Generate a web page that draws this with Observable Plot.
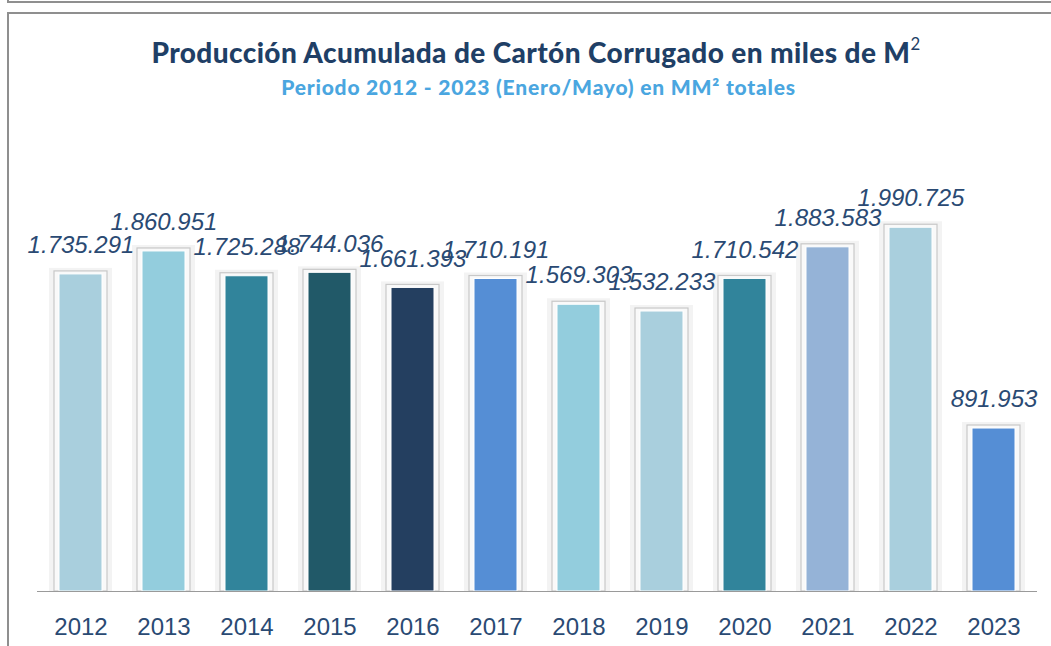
<!DOCTYPE html>
<html>
<head>
<meta charset="utf-8">
<script src="https://cdn.jsdelivr.net/npm/d3@7"></script>
<script src="https://cdn.jsdelivr.net/npm/@observablehq/plot@0.6"></script>
<style>
  html, body { margin: 0; padding: 0; background: #fff; }
  #wrap { position: relative; width: 1051px; height: 646px; overflow: hidden; background: #fff; }
  #box0 { position: absolute; left: 7px; top: -10px; width: 1100px; height: 11px; border-left: 2px solid #8f8f8f; border-bottom: 2px solid #8f8f8f; }
  #box1 { position: absolute; left: 7px; top: 12px; width: 1100px; height: 700px; border-left: 2px solid #8f8f8f; border-top: 2px solid #8f8f8f; }
  #title { position: absolute; left: 0; top: 35px; width: 1072px; text-align: center; font-family: "Lato", "Open Sans", sans-serif; font-weight: 900; font-size: 28px; color: #1f3f66; letter-spacing: 0.4px; white-space: nowrap; }
  #subtitle { position: absolute; left: 0; top: 74px; width: 1077px; text-align: center; font-family: "Lato", "Open Sans", sans-serif; font-weight: 900; font-size: 21px; color: #4aa6e0; letter-spacing: 0.8px; white-space: nowrap; }
  #chart { position: absolute; left: 0; top: 0; }
  sup { font-size: 0.6em; vertical-align: 0.75em; line-height: 0; font-weight: 400; }
</style>
</head>
<body>
<div id="wrap">
  <div id="box0"></div>
  <div id="box1"></div>
  <div id="chart"></div>
  <div id="title">Producción Acumulada de Cartón Corrugado en miles de M<sup>2</sup></div>
  <div id="subtitle">Periodo 2012 - 2023 (Enero/Mayo) en MM² totales</div>
</div>
<script>
const years = ["2012","2013","2014","2015","2016","2017","2018","2019","2020","2021","2022","2023"];
const values = [1735291, 1860951, 1725288, 1744036, 1661393, 1710191, 1569303, 1532233, 1710542, 1883583, 1990725, 891953];
const labels = ["1.735.291","1.860.951","1.725.288","1.744.036","1.661.393","1.710.191","1.569.303","1.532.233","1.710.542","1.883.583","1.990.725","891.953"];
const colors = ["#a9cfdd","#93cddd","#31849b","#215968","#243f60","#558ed5","#93cddd","#a9cfdd","#31849b","#95b3d7","#a9cfdd","#558ed5"];

const data = years.map((y, i) => ({year: y, value: values[i], label: labels[i], color: colors[i]}));

const chart = Plot.plot({
  width: 1051,
  height: 646,
  marginLeft: 37,
  marginRight: 14,
  marginTop: 189,
  marginBottom: 55,
  style: {background: "transparent", overflow: "visible"},
  x: {domain: years, paddingInner: 0.48, paddingOuter: 0.24, label: null},
  y: {domain: [0, 2200000], axis: null},
  marks: [
    Plot.barY(data, {x: "year", y: "value", fill: "#f3f3f3", insetLeft: -10, insetRight: -10, insetTop: -6}),
    Plot.barY(data, {x: "year", y: "value", fill: "#f9f9f9", stroke: "#c8c8c8", strokeWidth: 1.2, insetLeft: -5, insetRight: -5, insetTop: -3}),
    Plot.barY(data, {x: "year", y: "value", fill: "color", stroke: "#ffffff", strokeWidth: 1}),
    Plot.ruleY([0], {stroke: "#9a9a9a", strokeWidth: 1.2}),
    Plot.axisX({tickSize: 0, tickPadding: 26, fontSize: 24, fill: "#2a4a73", fontFamily: "Liberation Sans, Arial, sans-serif", label: null}),
    Plot.text(data, {x: "year", y: "value", text: "label", dy: -29, lineAnchor: "middle", fontSize: 24, fontStyle: "italic", fill: "#2a4a73", fontFamily: "Liberation Sans, Arial, sans-serif"})
  ]
});
document.getElementById("chart").appendChild(chart);
</script>
</body>
</html>
